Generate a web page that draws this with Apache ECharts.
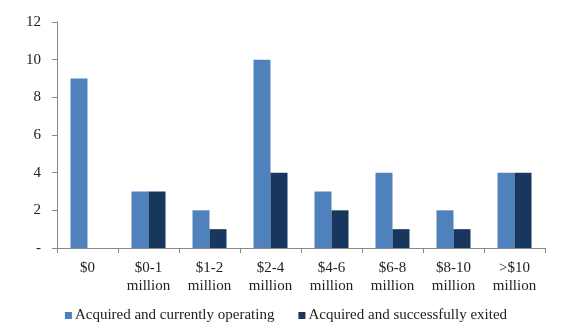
<!DOCTYPE html>
<html><head><meta charset="utf-8">
<script src="https://cdn.jsdelivr.net/npm/echarts@6/dist/echarts.min.js"></script>
<style>html,body{margin:0;padding:0;background:#fff}#c{width:572px;height:335px}</style>
</head><body><div id="c"></div>
<script>
var categories = ["$0", "$0-1\nmillion", "$1-2\nmillion", "$2-4\nmillion", "$4-6\nmillion", "$6-8\nmillion", "$8-10\nmillion", ">$10\nmillion"];
var operating = [9, 3, 2, 10, 3, 4, 2, 4];
var exited = [0, 3, 1, 4, 2, 1, 1, 4];
var seriesNames = ["Acquired and currently operating", "Acquired and successfully exited"];
var font = "'Liberation Serif', 'Times New Roman', serif";
var chart = echarts.init(document.getElementById('c'));
chart.setOption({
  animation: false,
  textStyle: {fontFamily: font},
  grid: {left: 57, right: 27, top: 22, bottom: 87},
  legend: {
    bottom: 7, left: 'center', itemWidth: 7, itemHeight: 7, itemGap: 24,
    icon: 'rect',
    textStyle: {fontFamily: font, fontSize: 15, color: '#222', padding: [0, 0, 0, -2]},
    data: seriesNames
  },
  xAxis: {
    type: 'category', data: categories,
    axisLine: {lineStyle: {color: '#888'}},
    axisTick: {show: true, length: 5, lineStyle: {color: '#888'}},
    axisLabel: {fontFamily: font, fontSize: 15, color: '#222', lineHeight: 18, margin: 11, interval: 0}
  },
  yAxis: {
    type: 'value', min: 0, max: 12, interval: 2,
    axisLine: {show: true, lineStyle: {color: '#888'}},
    axisTick: {show: true, length: 5, lineStyle: {color: '#888'}},
    splitLine: {show: false},
    axisLabel: {fontFamily: font, fontSize: 15, color: '#222', margin: 16,
      formatter: function (v) { return v === 0 ? '-' : v; }}
  },
  series: [
    {name: seriesNames[0], type: 'bar', data: operating, barWidth: 17, barGap: '0%', itemStyle: {color: '#4F81BD'}},
    {name: seriesNames[1], type: 'bar', data: exited, barWidth: 17, barGap: '0%', itemStyle: {color: '#17375E'}}
  ]
});
</script></body></html>
